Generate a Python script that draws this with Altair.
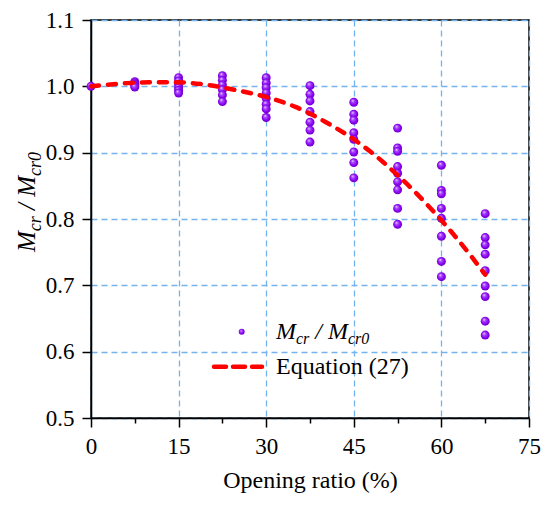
import altair as alt
import pandas as pd

FONT = "'Liberation Serif', 'Times New Roman', Times, serif"

# ---- data ----
opening_levels = [0, 7.5, 15, 22.5, 30, 37.5, 45, 52.5, 60, 67.5]
ratio_0 = [1.000]
ratio_7_5 = [1.007, 1.005, 1.003, 1.001, 0.999]
ratio_15 = [1.013, 1.008, 1.003, 0.998, 0.994, 0.990]
ratio_22_5 = [1.016, 1.009, 1.002, 0.995, 0.987, 0.977]
ratio_30 = [1.013, 1.005, 0.998, 0.990, 0.982, 0.973, 0.966, 0.953]
ratio_37_5 = [1.001, 0.988, 0.978, 0.962, 0.946, 0.934, 0.916]
ratio_45 = [0.976, 0.958, 0.949, 0.930, 0.920, 0.901, 0.885, 0.862]
ratio_52_5 = [0.937, 0.907, 0.902, 0.879, 0.869, 0.856, 0.844, 0.816, 0.792]
ratio_60 = [0.881, 0.843, 0.838, 0.816, 0.801, 0.774, 0.736, 0.713]
ratio_67_5 = [0.808, 0.772, 0.761, 0.747, 0.722, 0.699, 0.683, 0.646, 0.625]
ratio_groups = [ratio_0, ratio_7_5, ratio_15, ratio_22_5, ratio_30,
                ratio_37_5, ratio_45, ratio_52_5, ratio_60, ratio_67_5]

eq_x = [0, 5, 10, 15, 20, 25, 30, 35, 40, 45, 50, 52.5, 55, 60, 65, 67.5]
eq_y = [1.000, 1.004, 1.006, 1.006, 1.002, 0.994, 0.984, 0.969, 0.947,
        0.920, 0.886, 0.866, 0.845, 0.798, 0.745, 0.716]

x_ticks = [0, 7.5, 15, 22.5, 30, 37.5, 45, 52.5, 60, 67.5, 75]
y_ticks = [0.5, 0.55, 0.6, 0.65, 0.7, 0.75, 0.8, 0.85, 0.9, 0.95, 1.0, 1.05, 1.1]

pts = pd.DataFrame([{"opening": o, "ratio": r}
                    for o, g in zip(opening_levels, ratio_groups) for r in g])
eq = pd.DataFrame({"opening": eq_x, "ratio": eq_y})

# ---- styling ----
GRID = "#74B3EE"
x_major = "datum.value % 15 === 0"
y_major = "round(datum.value * 100) % 10 === 0"

def make_axis(values, major, fmt, title, lab_pad):
    return alt.Axis(
        values=values,
        labelExpr=f"({major}) ? format(datum.value, '{fmt}') : ''",
        tickSize={"condition": {"test": major, "value": 9}, "value": 5},
        gridOpacity={"condition": {"test": major, "value": 1}, "value": 0},
        grid=True, gridColor=GRID, gridDash=[6, 4], gridWidth=1.3,
        labelFlush=False, labelOverlap=False, labelBound=False,
        labelFont=FONT, labelFontSize=23, labelColor="black",
        labelPadding=lab_pad,
        tickColor="black", tickWidth=1.5,
        domainColor="black", domainWidth=1.5,
        title=title, titleFont=FONT, titleFontSize=24,
        titleFontWeight="normal", titleColor="black", titlePadding=10,
    )

xscale = alt.Scale(domain=[0, 75], nice=False, zero=False)
yscale = alt.Scale(domain=[0.5, 1.1], nice=False, zero=False)

sphere = alt.RadialGradient(
    gradient="radial",
    stops=[alt.GradientStop(color="#F6ECFF", offset=0),
           alt.GradientStop(color="#A848FF", offset=0.3),
           alt.GradientStop(color="#8A00F0", offset=0.7),
           alt.GradientStop(color="#6000B8", offset=1)],
    x1=0.35, y1=0.3, r1=0, x2=0.5, y2=0.5, r2=0.55,
)

points = alt.Chart(pts).mark_circle(size=80, opacity=1, color=sphere).encode(
    x=alt.X("opening:Q", scale=xscale,
            axis=make_axis(x_ticks, x_major, "d", "Opening ratio (%)", 8)),
    y=alt.Y("ratio:Q", scale=yscale,
            axis=make_axis(y_ticks, y_major, ".1f", None, 8)),
)

line = alt.Chart(eq).mark_line(
    color="#FF0000", strokeWidth=4.5, strokeDash=[8, 9], strokeCap="round",
    interpolate="monotone",
).encode(x="opening:Q", y="ratio:Q")

one = alt.Data(values=[{}])

def txt(text, x, y, size, italic=True, angle=None):
    kw = dict(text=text, font=FONT, fontSize=size, align="left",
              baseline="alphabetic", color="black",
              fontStyle="italic" if italic else "normal")
    if angle is not None:
        kw["angle"] = angle
    return alt.Chart(one).mark_text(**kw).encode(x=alt.value(x), y=alt.value(y))

# widths (em) of Times italic glyphs used for composing sub-scripted labels
EM = {"M": 0.833, "c": 0.444, "r": 0.389, "/": 0.278, "0": 0.5, " ": 0.25}

def compose(parts, main, sub, shift):
    out = []
    pos = 0.0
    for text, is_sub, sb, sa in parts:
        size = sub if is_sub else main
        pos += sb * EM[" "] * main
        out.append((text, pos, shift if is_sub else 0, size))
        pos += sum(EM[ch] for ch in text) * size
        pos += sa * EM[" "] * main
    return out

parts = [("M", False, 0, 0), ("cr", True, 0, 0), ("/", False, 1, 1),
         ("M", False, 0, 0), ("cr0", True, 0, 0)]

layers = [points, line]

# y axis title (rotated), reading bottom to top
yt_base_x, yt_start_y = -56, 232
for text, off, sh, size in compose(parts, 25, 18, 6):
    layers.append(txt(text, yt_base_x + sh, yt_start_y - off, size, angle=270))

# legend
layers.append(alt.Chart(one).mark_circle(size=35, opacity=1, color=sphere)
              .encode(x=alt.value(150.7), y=alt.value(311.7)))
layers.append(alt.Chart(one).mark_rule(
    color="#FF0000", strokeWidth=4.5, strokeDash=[12, 7], strokeCap="round")
    .encode(x=alt.value(123), x2=alt.value(171), y=alt.value(346.7)))
lg_x, lg_y = 185, 319
for text, off, sh, size in compose(parts, 24, 16, 5):
    layers.append(txt(text, lg_x + off, lg_y + sh, size))
layers.append(txt("Equation (27)", lg_x, 354, 24, italic=False))

chart = alt.layer(*layers).properties(
    width=438, height=398,
    padding={"left": 83, "top": 12, "right": 12, "bottom": 76},
    autosize=alt.AutoSizeParams(type="none"),
).configure_view(stroke="black", strokeWidth=1.5)

chart.save("out.html", embed_options={"renderer": "svg", "actions": False})
